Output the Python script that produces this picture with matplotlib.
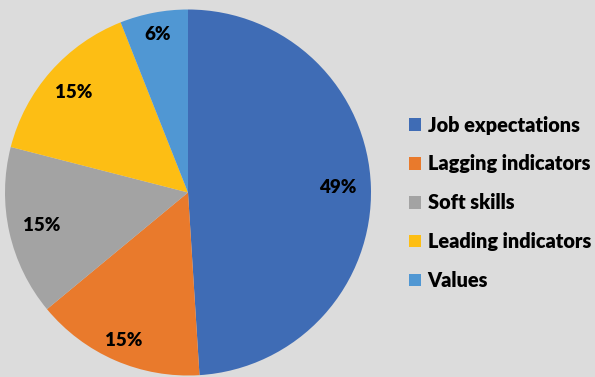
import numpy as np
import matplotlib.pyplot as plt
from matplotlib.patches import Patch

# data
labels = ['Job expectations', 'Lagging indicators', 'Soft skills', 'Leading indicators', 'Values']
shares = [49, 15, 15, 15, 6]
colors = ['#3f6cb5', '#e97a2c', '#a3a3a3', '#fdbe14', '#5097d3']
# radial position of each percentage label (fraction of radius)
label_dist = [0.82, 0.88, 0.82, 0.83, 0.88]

plt.rcParams['font.family'] = ['Lato', 'DejaVu Sans']

fig = plt.figure(figsize=(5.95, 3.77), dpi=100, facecolor='#dcdcdc')
ax = fig.add_axes([0, 0, 1, 1])
ax.set_facecolor('#dcdcdc')

cx, cy, r = 188, 184.5, 183
wedges, texts, autotexts = ax.pie(
    shares, colors=colors, startangle=90, counterclock=False,
    center=(cx, cy), radius=r, autopct='%d%%', pctdistance=0.84,
    textprops=dict(fontsize=13.5, fontweight='heavy', color='black'),
    wedgeprops=dict(linewidth=0), frame=True)

for w, t, d in zip(wedges, autotexts, label_dist):
    ang = np.deg2rad((w.theta1 + w.theta2) / 2)
    t.set_position((cx + d * r * np.cos(ang), cy + d * r * np.sin(ang)))

ax.set_xlim(0, 595)
ax.set_ylim(0, 377)
ax.set_aspect('equal')
ax.axis('off')

handles = [Patch(facecolor=c, edgecolor='none') for c in colors]
leg = ax.legend(handles, labels, loc='center left', bbox_to_anchor=(391 / 595, 0.462),
                bbox_transform=fig.transFigure, frameon=False, handlelength=0.6,
                handleheight=0.6, handletextpad=0.35, labelspacing=1.0,
                prop=dict(size=14.3, weight='heavy'))

fig.savefig('out.png', dpi=100, facecolor='#dcdcdc')
